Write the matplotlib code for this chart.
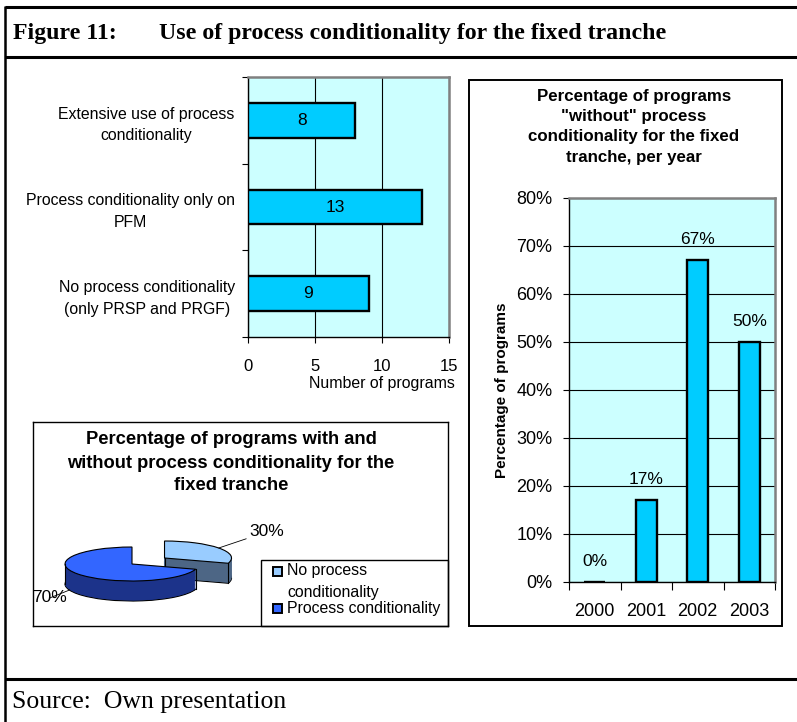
import matplotlib
matplotlib.use('Agg')
import matplotlib.pyplot as plt
import numpy as np
from matplotlib.patches import Rectangle
from matplotlib.lines import Line2D
from matplotlib.transforms import ScaledTranslation

# ---------------- data ----------------
bar_categories = ["Extensive use of process\nconditionality",
                  "Process conditionality only on\nPFM",
                  "No process conditionality\n(only PRSP and PRGF)"]
bar_values = [8, 13, 9]
bar_xticks = [0, 5, 10, 15]

pie_labels = ["No process\nconditionality", "Process conditionality"]
pie_values = [30, 70]

years = ["2000", "2001", "2002", "2003"]
year_pct = [0, 17, 67, 50]
pct_ticks = [0, 10, 20, 30, 40, 50, 60, 70, 80]

# ---------------- style ----------------
W, H, DPI = 797, 722, 100
SANS = 'Liberation Sans'
SERIF = 'Liberation Serif'
BAR = '#00CCFF'
BG = '#CCFFFF'
FS = 11.4
PIE_TOP = ['#99CCFF', '#3366FF']
PIE_SIDE = ['#4D6685', '#1C338A']

plt.rcParams['font.family'] = [SANS, 'DejaVu Sans']
plt.rcParams['font.size'] = FS

fig = plt.figure(figsize=(W / DPI, H / DPI), dpi=DPI)


def fx(x):
    return x / W


def fy(y):
    return 1 - y / H


def axrect(l, t, r, b):
    return [l / W, 1 - b / H, (r - l) / W, (b - t) / H]


def fline(x0, y0, x1, y1, lw=2.0):
    fig.add_artist(Line2D([fx(x0), fx(x1)], [fy(y0), fy(y1)], color='black',
                          lw=lw, transform=fig.transFigure, solid_capstyle='butt'))


def frect(l, t, r, b, lw=1.0):
    fig.add_artist(Rectangle((fx(l), fy(b)), (r - l) / W, (b - t) / H, fill=False,
                             edgecolor='black', lw=lw, transform=fig.transFigure))


# ---------------- outer frame ----------------
fline(5, 7, W, 7, lw=2.2)
fline(5, 57, W, 57, lw=2.2)
fline(5, 679, W, 679, lw=2.2)
fline(5, 6, 5, H, lw=1.8)

fig.text(fx(13), fy(33), "Figure 11:", family=SERIF, weight='bold', fontsize=17.2,
         ha='left', va='center')
fig.text(fx(159), fy(33), "Use of process conditionality for the fixed tranche",
         family=SERIF, weight='bold', fontsize=17.2, ha='left', va='center')
fig.text(fx(12), fy(702), "Source:  Own presentation", family=SERIF, fontsize=18.5,
         ha='left', va='center')

# ---------------- horizontal bar chart ----------------
ax1 = fig.add_axes(axrect(248, 77, 449, 337))
ax1.set_facecolor(BG)
yy = np.arange(len(bar_values))
ax1.barh(yy, bar_values, height=0.4, color=BAR, edgecolor='black', lw=1.7, zorder=3)
ax1.set_xlim(bar_xticks[0], bar_xticks[-1])
ax1.set_ylim(len(bar_values) - 0.5, -0.5)
ax1.set_xticks(bar_xticks)
ax1.set_xticklabels([str(t) for t in bar_xticks], fontsize=12)
ax1.set_yticks(yy)
ax1.set_yticklabels(bar_categories, multialignment='center', linespacing=1.55)
shift_up = ScaledTranslation(0, 3.5 / DPI, fig.dpi_scale_trans)
for lab in ax1.get_yticklabels():
    lab.set_transform(lab.get_transform() + shift_up)
ax1.set_yticks(np.arange(-0.5, len(bar_values), 1), minor=True)
ax1.tick_params(axis='y', which='major', length=0, pad=9.5)
ax1.tick_params(axis='y', which='minor', length=4, width=0.8, direction='out')
ax1.tick_params(axis='x', which='major', length=4, width=0.8, direction='out', pad=12)
ax1.xaxis.grid(True, color='black', lw=0.8)
ax1.set_axisbelow(True)
for s in ['top', 'right']:
    ax1.spines[s].set_color('#808080')
    ax1.spines[s].set_linewidth(1.8)
for s in ['left', 'bottom']:
    ax1.spines[s].set_linewidth(1.0)
for i, v in enumerate(bar_values):
    ax1.text(v / 2, i, str(v), ha='center', va='center', zorder=4, fontsize=12.5)
fig.text(fx(455), fy(383), "Number of programs", ha='right', va='center')

# ---------------- column chart (right) ----------------
frect(469, 80, 782, 626, lw=1.4)
ax2 = fig.add_axes(axrect(569, 198, 775, 582))
ax2.set_facecolor(BG)
xx = np.arange(len(years))
ax2.bar(xx, year_pct, width=0.4, color=BAR, edgecolor='black', lw=1.7, zorder=3)
ax2.set_xlim(-0.5, len(years) - 0.5)
ax2.set_ylim(pct_ticks[0], pct_ticks[-1])
ax2.set_yticks(pct_ticks)
ax2.set_yticklabels([f"{t}%" for t in pct_ticks], fontsize=13)
ax2.set_xticks(xx)
ax2.set_xticklabels(years, fontsize=13)
ax2.set_xticks(np.arange(-0.5, len(years), 1), minor=True)
ax2.tick_params(axis='x', which='major', length=0, pad=15)
ax2.tick_params(axis='x', which='minor', length=6, width=0.8, direction='out')
ax2.tick_params(axis='y', which='major', length=4, width=0.8, direction='out', pad=8)
ax2.yaxis.grid(True, color='black', lw=0.8)
ax2.set_axisbelow(True)
for s in ['top', 'right']:
    ax2.spines[s].set_color('#808080')
    ax2.spines[s].set_linewidth(1.8)
for s in ['left', 'bottom']:
    ax2.spines[s].set_linewidth(1.0)
for i, v in enumerate(year_pct):
    ax2.annotate(f"{v}%", (i, v), xytext=(0, 15), textcoords='offset points',
                 ha='center', va='center', zorder=4, fontsize=12.5)

title2 = ["Percentage of programs", '"without" process',
          "conditionality for the fixed", "tranche, per year"]
for k, line in enumerate(title2):
    fig.text(fx(634), fy(96 + k * 20.4), line, weight='bold', fontsize=12.2,
             ha='center', va='center')
fig.text(fx(502), fy(390), "Percentage of programs", weight='bold', fontsize=11,
         rotation=90, ha='center', va='center')

# ---------------- 3D pie chart ----------------
BL, BT, BR, BB = 33, 422, 448, 626
ax3 = fig.add_axes(axrect(BL, BT, BR, BB))
cx, cy, rx, ry, depth = 132, 564, 67, 17, 20
explode = [0.6, 0.0]
dk = depth / ry
layers = np.linspace(dk, 0, 36)
for j, k in enumerate(layers[:-1]):
    if j == 0:
        wp = dict(lw=0.8, edgecolor='black')
    else:
        wp = dict(lw=0)
    wedges, _ = ax3.pie(pie_values, startangle=90, counterclock=False, explode=explode,
                        center=(0, -k), colors=PIE_SIDE, wedgeprops=wp)
    wedges[0].set_zorder(1)
    wedges[1].set_zorder(3)
wedges, _ = ax3.pie(pie_values, startangle=90, counterclock=False, explode=explode,
                    center=(0, 0), colors=PIE_TOP,
                    wedgeprops=dict(lw=0.8, edgecolor='black'))
wedges[0].set_zorder(2)
wedges[1].set_zorder(4)

# silhouette verticals of the extruded slices
fracs = np.array(pie_values) / np.sum(pie_values)
th_end0 = np.deg2rad(90 - 360 * fracs[0])
th_mid0 = np.deg2rad(90 - 180 * fracs[0])
ox, oy = explode[0] * np.cos(th_mid0), explode[0] * np.sin(th_mid0)
ex, ey = np.cos(th_end0), np.sin(th_end0)
ax3.plot([ox, ox], [oy, oy - dk], color='black', lw=0.8, zorder=2.5)
ax3.plot([ox + ex, ox + ex], [oy + ey, oy + ey - dk], color='black', lw=0.8, zorder=2.5)
ax3.plot([ex, ex], [ey, ey - dk], color='black', lw=0.8, zorder=4.5)
ax3.plot([-1, -1], [0, -dk], color='black', lw=0.8, zorder=4.5)

ax3.set_aspect('auto')
ax3.set_xlim(-(cx - BL) / rx, (BR - cx) / rx)
ax3.set_ylim(-(BB - cy) / ry, (cy - BT) / ry)
ax3.set_frame_on(True)
ax3.set_xticks([])
ax3.set_yticks([])
for s in ax3.spines.values():
    s.set_linewidth(1.0)

# percentage labels
ax3.annotate(f"{pie_values[0]}%", xy=(ox + np.cos(th_mid0), oy + np.sin(th_mid0)),
             xytext=((249 - cx) / rx, (cy - 532) / ry), ha='left', va='center',
             fontsize=12.5,
             arrowprops=dict(arrowstyle='-', lw=0.6, color='black', shrinkA=0, shrinkB=0),
             zorder=6, annotation_clip=False)
ax3.annotate(f"{pie_values[1]}%", xy=(-0.93, -0.35 - dk),
             xytext=((67 - cx) / rx, (cy - 598) / ry), ha='right', va='center',
             fontsize=12.5,
             arrowprops=dict(arrowstyle='-', lw=0.6, color='black', shrinkA=0, shrinkB=0),
             zorder=6, annotation_clip=False)

title3 = ["Percentage of programs with and",
          "without process conditionality for the",
          "fixed tranche"]
for k, line in enumerate(title3):
    fig.text(fx(231), fy(440 + k * 23), line, weight='bold', fontsize=13.2,
             ha='center', va='center')

# legend (drawn manually to mimic the original layout)
frect(261, 560, 448, 626, lw=1.0)
leg_y = [571, 608]
for lab, col, y0 in zip(pie_labels, PIE_TOP, leg_y):
    fig.add_artist(Rectangle((fx(273), fy(y0 + 4.5)), 9 / W, 9 / H, facecolor=col,
                             edgecolor='black', lw=1.4, transform=fig.transFigure))
    for n, part in enumerate(lab.split("\n")):
        fig.text(fx(287), fy(y0 + n * 21), part, ha='left', va='center', fontsize=11.4)

fig.savefig("out.png", dpi=DPI)
